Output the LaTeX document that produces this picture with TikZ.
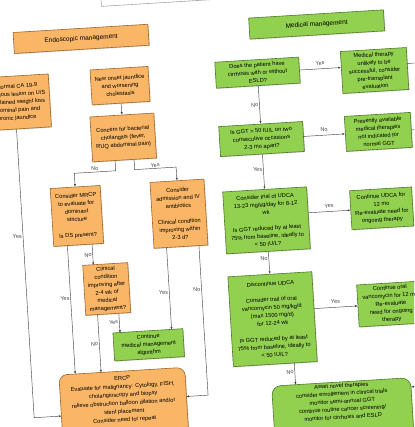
\documentclass[tikz,border=0pt]{standalone}
\usepackage{fontspec}
\setsansfont{Liberation Sans}
\usetikzlibrary{arrows.meta,shadows,calc}
\definecolor{endo}{RGB}{249,182,102}
\definecolor{endoline}{RGB}{160,100,40}
\definecolor{medi}{RGB}{146,208,80}
\definecolor{mediline}{RGB}{80,120,40}
\definecolor{linec}{RGB}{70,70,70}
\definecolor{framec}{RGB}{165,165,170}

\begin{document}
\begin{tikzpicture}[x=1pt,y=-1pt,
    box/.style={draw,line width=0.6pt,align=center,inner sep=1.5pt,
                font=\fontsize{5.7}{7.9}\selectfont\sffamily,
                drop shadow={shadow xshift=0.8pt,shadow yshift=-0.8pt,opacity=0.3}},
    onode/.style={box,draw=endoline,fill=endo},
    gnode/.style={box,draw=mediline,fill=medi},
    head/.style={minimum width=135pt,minimum height=21pt,
                 font=\fontsize{6.5}{8}\selectfont\sffamily},
    link/.style={linec,line width=0.45pt},
    conn/.style={link,-{Latex[length=2.6pt,width=2.2pt]}},
    lbl/.style={font=\fontsize{5.5}{6}\selectfont\sffamily,inner sep=1pt}]
  \useasboundingbox (0,0) rectangle (414,427);
  \fill[white] (0,0) rectangle (414,427);
  \clip (0,0) rectangle (414,427);
  \begin{scope}[rotate around={3.5:(207,213.5)},transform shape]
    % box of the previous page part
    \node[draw=framec,fill=white,line width=0.6pt,minimum width=200pt,
          minimum height=40pt,anchor=south west] (prev) at (114,0.6) {};
    % endoscopic side
    \node[onode,head] (endo) at (92,31.5) {Endoscopic management};
    \node[onode,minimum width=70pt,minimum height=53pt] (ca) at (22,91)
      {Abnormal CA 19-9\\suspicious lesion on U/S\\unexplained weight loss\\abdominal pain and\\chronic jaundice};
    \node[onode,minimum width=58pt,minimum height=35pt] (onset) at (128,80.6)
      {New onset jaundice\\and worsening\\cholestasis};
    \node[onode,minimum width=64pt,minimum height=45pt] (chol) at (128,132.5)
      {Concern for bacterial\\cholangitis (fever,\\RUQ abdominal pain)};
    \node[onode,minimum width=50pt,minimum height=58pt] (mrcp) at (77,208)
      {Consider MRCP\\to evaluate for\\dominant\\stricture\\[7.9pt]Is DS present?};
    \node[onode,minimum width=54pt,minimum height=66pt] (abx) at (179,212)
      {Consider\\admission and IV\\antibiotics\\[7.9pt]Clinical condition\\improving within\\2-3 d?};
    \node[onode,minimum width=45pt,minimum height=50pt] (clin) at (102.3,282.7)
      {Clinical\\condition\\improving after\\2-4 wk of\\medical\\management?};
    \node[gnode,minimum width=70pt,minimum height=28pt] (cont) at (140.8,341)
      {Continue\\medical management\\algorithm};
    \node[onode,rounded corners=8pt,minimum width=126pt,inner ysep=5pt,anchor=north,
          font=\fontsize{5.7}{8.3}\selectfont\sffamily] (ercp) at (112.3,365.4)
      {ERCP\\Evaluate for malignancy: Cytology, FISH,\\cholangioscopy and biopsy\\relieve obstruction balloon dilation and/or\\stent placement\\Consider need for repeat\\[30pt]\mbox{}};
    % medical side
    \node[gnode,head] (med) at (328,31.5) {Medical management};
    \node[gnode,minimum width=84pt,minimum height=26pt] (cirr) at (266,76)
      {Does the patient have\\cirrhosis with or without\\ESLD?};
    \node[gnode,minimum width=66pt,minimum height=42pt] (pretx) at (383,81)
      {Medical therapy\\unlikely to be\\successful, consider\\pre-transplant\\evaluation};
    \node[gnode,minimum width=84pt,minimum height=30pt] (ggt) at (266,142.5)
      {Is GGT > 50 IU/L on two\\consecutive occasions\\2-3 mo apart?};
    \node[gnode,minimum width=66pt,minimum height=35pt] (normal) at (383,142.5)
      {Presently available\\medical therapies\\not indicated for\\normal GGT};
    \node[gnode,minimum width=84pt,minimum height=62pt] (udca) at (266,224)
      {Consider trial of UDCA\\13-23 mg/kg/day for 8-12\\wk\\[7.9pt]Is GGT reduced by at least\\75\% from baseline, ideally to\\< 50 IU/L?};
    \node[gnode,minimum width=62pt,minimum height=39pt] (keepu) at (381.7,219)
      {Continue UDCA for\\12 mo\\Re-evaluate need for\\ongoing therapy};
    \node[gnode,minimum width=84pt,minimum height=90pt] (stopu) at (266,323)
      {Discontinue UDCA\\[7.9pt]Consider trail of oral\\vancomycin 50 mg/kg/d\\(max 1500 mg/d)\\for 12-24 wk\\[7.9pt]Is GGT reduced by at least\\75\% from baseline, ideally to\\< 50 IU/L?};
    \node[gnode,minimum width=66pt,minimum height=42pt] (keepv) at (385,315)
      {Continue oral\\vancomycin for 12 mo\\Re-evaluate\\need for ongoing\\therapy};
    \node[gnode,rounded corners=9pt,minimum width=139pt,anchor=north] (await) at (330.5,389.5)
      {Await novel therapies\\consider enrollement in clinical trials\\monitor semi-annual GGT\\continue routine cancer screening/\\monitor for cirrhosis and ESLD\\[20pt]\mbox{}};
    \coordinate (offA) at (440,76);
    \coordinate (offB) at (440,142.5);
    \coordinate (offC) at (440,399);
    % endoscopic connectors
    \draw[conn] (onset) -- (chol);
    \draw[conn] ($(chol.south)+(-9.5,0)$) -- ++(0,10) -| node[pos=0.25,above=0pt,lbl] {No} (mrcp.north);
    \draw[conn] ($(chol.south)+(9.5,0)$) -- ++(0,10) -| node[pos=0.25,above=0pt,lbl] {Yes} (abx.north);
    \draw[conn] ($(mrcp.south)+(13.4,0)$) -- node[left,lbl] {No} ++(0,20.7);
    \draw[conn] ($(mrcp.south)+(-11.3,0)$) -- node[pos=0.41,left,lbl] {Yes} ++(0,128.4);
    \draw[conn] ($(clin.south)+(-10.7,0)$) -- node[left,lbl] {No} ++(0,57.7);
    \draw[conn] ($(clin.south)+(10.6,0)$) -- node[pos=0.43,left,lbl] {Yes} ++(0,19.3);
    \draw[conn] ($(abx.south)+(-14.4,0)$) -- node[pos=0.54,left,lbl] {Yes} ++(0,82);
    \draw[conn] ($(abx.south)+(18,0)$) -- node[pos=0.29,left,lbl] {No} ++(0,149.6) -- ++(-21.7,0);
    \draw[conn] (ca.south) -- node[pos=0.37,left,lbl] {Yes} ++(0,289) -- ++(27.3,0);
    % medical connectors
    \draw[conn] (cirr.east) -- node[above=2.5pt,lbl] {Yes} (cirr.east -| pretx.west);
    \draw[link] (pretx.east |- offA) -- (offA);
    \draw[conn] (cirr) -- node[left,lbl] {No} (ggt);
    \draw[conn] (ggt) -- node[above=2.5pt,lbl] {No} (normal);
    \draw[link] (normal.east) -- (offB);
    \draw[conn] (ggt) -- node[pos=0.42,left,lbl] {Yes} (udca);
    \draw[conn] (udca.east |- keepu.west) -- node[above=2.5pt,lbl] {Yes} (keepu.west);
    \draw[conn] (udca) -- node[pos=0.3,left,lbl] {No} (stopu);
    \draw[conn] (stopu.east |- keepv.west) -- node[above=2.5pt,lbl] {Yes} (keepv.west);
    \draw[conn] ($(stopu.south)+(19,0)$) -- node[pos=0.4,left,lbl] {No} ++(0,21.5);
    \draw[conn] (offC) -- (offC -| await.east);
  \end{scope}
\end{tikzpicture}
\end{document}
